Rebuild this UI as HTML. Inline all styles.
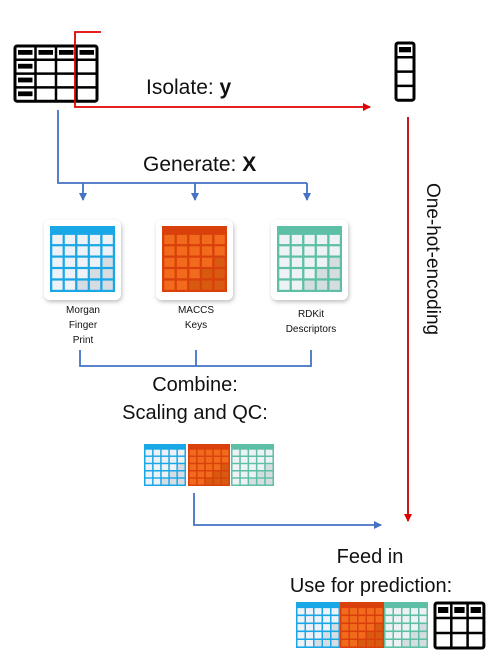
<!DOCTYPE html>
<html><head><meta charset="utf-8"><style>
html,body{margin:0;padding:0;background:#fff;width:502px;height:666px;overflow:hidden}
svg{display:block;font-family:"Liberation Sans",sans-serif}
</style></head><body>
<svg id="s" width="502" height="666" viewBox="0 0 502 666" xmlns="http://www.w3.org/2000/svg">
<defs>
<marker id="ar" markerWidth="8" markerHeight="8" refX="7" refY="4" orient="auto" markerUnits="userSpaceOnUse"><path d="M0,0 L8,4 L0,8 z" fill="#e00000"/></marker>
<marker id="ab" markerWidth="8" markerHeight="8" refX="7" refY="4" orient="auto" markerUnits="userSpaceOnUse"><path d="M0,0 L8,4 L0,8 z" fill="#4472c4"/></marker>
<filter id="sh" x="-20%" y="-20%" width="140%" height="140%"><feDropShadow dx="1" dy="2" stdDeviation="2" flood-color="#000" flood-opacity="0.25"/></filter>
</defs>
<g id="g"></g>
<!-- red path -->
<polyline points="101,32 75,32 75,107 370,107" fill="none" stroke="#e00000" stroke-width="1.8" marker-end="url(#ar)"/>
<line x1="408" y1="117" x2="408" y2="521" stroke="#c00000" stroke-width="1.8" marker-end="url(#ar)"/>
<!-- blue -->
<polyline points="58,110 58,183 307,183" fill="none" stroke="#4472c4" stroke-width="1.8"/>
<line x1="83" y1="183" x2="83" y2="200" stroke="#4472c4" stroke-width="1.8" marker-end="url(#ab)"/>
<line x1="195" y1="183" x2="195" y2="200" stroke="#4472c4" stroke-width="1.8" marker-end="url(#ab)"/>
<line x1="307" y1="183" x2="307" y2="200" stroke="#4472c4" stroke-width="1.8" marker-end="url(#ab)"/>
<polyline points="80,350 80,366 311,366 311,350" fill="none" stroke="#4472c4" stroke-width="1.8"/>
<line x1="196" y1="350" x2="196" y2="366" stroke="#4472c4" stroke-width="1.8"/>
<polyline points="194,493 194,525 381,525" fill="none" stroke="#4472c4" stroke-width="1.8" marker-end="url(#ab)"/>
<!-- text -->
<text x="146" y="94" font-size="21" fill="#111">Isolate: <tspan font-weight="bold">y</tspan></text>
<text x="143" y="171" font-size="21" fill="#111">Generate: <tspan font-weight="bold">X</tspan></text>
<text x="432" y="183" font-size="19" fill="#111" transform="rotate(90 432 183)" dominant-baseline="middle">One-hot-encoding</text>
<g font-size="10" fill="#111" text-anchor="middle">
<text x="83" y="313">Morgan</text><text x="83" y="328">Finger</text><text x="83" y="343">Print</text>
<text x="196" y="313">MACCS</text><text x="196" y="328">Keys</text>
<text x="311" y="317">RDKit</text><text x="311" y="332">Descriptors</text>
</g>
<g font-size="20" fill="#111" text-anchor="middle">
<text x="195" y="391">Combine:</text><text x="195" y="419">Scaling and QC:</text>
<text x="370" y="563">Feed in</text><text x="371" y="592">Use for prediction:</text>
</g>
</svg>
<script>
var g=document.getElementById('g'),NS='http://www.w3.org/2000/svg',h='';
function grid(x,y,w,ht,c,cell,inner){
 h+='<rect x="'+x+'" y="'+y+'" width="'+w+'" height="'+ht+'" fill="'+c+'"/>';
 var hdr=ht*0.1,gp=w*0.035,cw=(w-gp*6)/5,ch=(ht-hdr-gp*6)/5;
 for(var r=0;r<5;r++)for(var k=0;k<5;k++){
  var cx=x+gp+k*(cw+gp),cy=y+hdr+gp+r*(ch+gp);
  var col=(r+k>5)?inner:cell;
  h+='<rect x="'+cx.toFixed(1)+'" y="'+cy.toFixed(1)+'" width="'+cw.toFixed(1)+'" height="'+ch.toFixed(1)+'" fill="'+col+'"/>';
 }
}
var B=['#1aa7e6','#eef2f6','#d6dce2'],O=['#d9400c','#f26a1c','#d85a10'],T=['#5cbfa6','#eef2f4','#d6dde0'];
function card(x,y,p){h+='<rect x="'+x+'" y="'+y+'" width="77" height="80" rx="6" fill="#fff" filter="url(#sh)"/>';grid(x+6,y+6,65,66,p[0],p[1],p[2]);}
card(44,220,B);card(156,220,O);card(271,220,T);
grid(144,444,42,42,B[0],B[1],B[2]);grid(188,444,42,42,O[0],O[1],O[2]);grid(231,444,43,42,T[0],T[1],T[2]);
grid(296,602,44,46,B[0],B[1],B[2]);grid(340,602,44,46,O[0],O[1],O[2]);grid(384,602,44,46,T[0],T[1],T[2]);
function tbl(x,y,cols,rows,cw,rh,hdrCol){
 var w=cols*cw,ht=rows*rh;
 h+='<rect x="'+x+'" y="'+y+'" width="'+w+'" height="'+ht+'" rx="2" fill="#fff" stroke="#000" stroke-width="3"/>';
 for(var k=1;k<cols;k++)h+='<line x1="'+(x+k*cw)+'" y1="'+y+'" x2="'+(x+k*cw)+'" y2="'+(y+ht)+'" stroke="#000" stroke-width="2.5"/>';
 for(var r=1;r<rows;r++)h+='<line x1="'+x+'" y1="'+(y+r*rh)+'" x2="'+(x+w)+'" y2="'+(y+r*rh)+'" stroke="#000" stroke-width="2.5"/>';
 for(var k=0;k<cols;k++)h+='<rect x="'+(x+k*cw+3)+'" y="'+(y+4)+'" width="'+(cw-6)+'" height="'+(rh-9)+'" fill="#000"/>';
 if(hdrCol)for(var r=1;r<rows;r++)h+='<rect x="'+(x+3)+'" y="'+(y+r*rh+4)+'" width="'+(cw-6)+'" height="'+(rh-9)+'" fill="#000"/>';
}
tbl(15,46,4,4,20.5,13.8,true);
tbl(396,43,1,4,18,14.3,false);
tbl(435,603,3,3,16.3,15,false);
g.innerHTML=h;
</script>
</body></html>
